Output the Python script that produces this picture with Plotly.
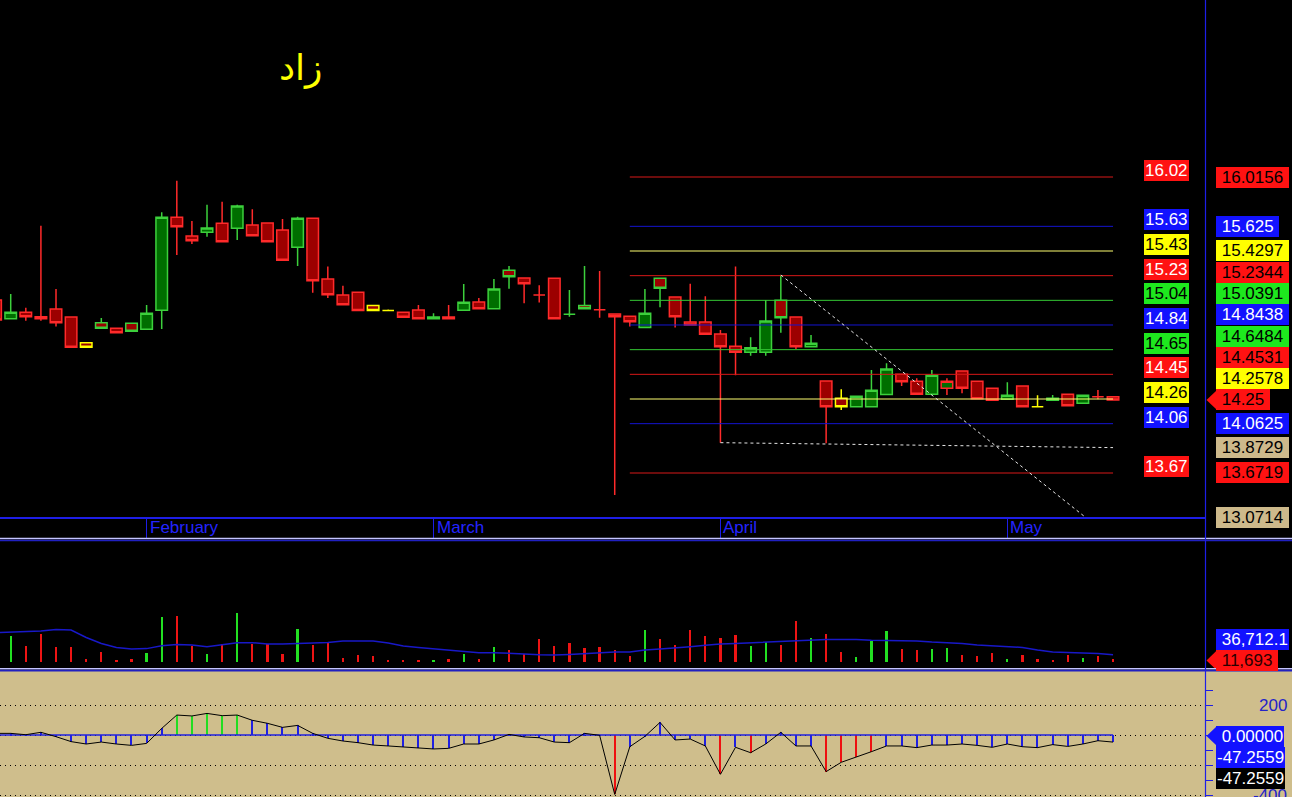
import plotly.graph_objects as go

W, H = 1292, 797
FONT = "Liberation Sans, Arial, sans-serif"

# ---------------- data ----------------
bars = list(range(-1, 74))
open_ = [15.042, 14.894, 14.945, 14.910, 14.971, 14.907, 14.704, 14.862, 14.818, 14.857,
         14.810, 14.961, 15.697, 15.549, 15.578, 15.649, 15.609, 15.636, 15.651, 15.596,
         15.459, 15.689, 15.208, 15.081, 15.103, 14.999, 14.958, 14.945, 14.963, 14.894,
         14.907, 14.961, 15.026, 14.973, 15.277, 15.216, 15.081, 15.214, 14.929, 14.999,
         14.965, 14.931, 14.913, 14.824, 15.213, 15.066, 14.868, 14.868, 14.773, 14.675,
         14.628, 14.628, 15.039, 14.907, 14.672, 14.401, 14.264, 14.197, 14.197, 14.294,
         14.454, 14.398, 14.295, 14.343, 14.480, 14.398, 14.343, 14.256, 14.361, 14.197,
         14.264, 14.295, 14.224, 14.276, 14.276]
high = [15.073, 15.089, 14.981, 15.630, 15.129, 14.907, 14.704, 14.899, 14.818, 14.857,
        15.002, 15.736, 15.986, 15.667, 15.796, 15.820, 15.796, 15.760, 15.651, 15.683,
        15.701, 15.689, 15.306, 15.155, 15.103, 14.999, 14.966, 14.945, 15.002, 14.936,
        15.002, 15.169, 15.058, 15.208, 15.311, 15.216, 15.158, 15.214, 15.121, 15.311,
        15.271, 14.931, 14.913, 15.129, 15.213, 15.066, 15.171, 15.071, 14.804, 15.306,
        14.746, 15.042, 15.240, 14.907, 14.765, 14.401, 14.335, 14.279, 14.488, 14.540,
        14.454, 14.422, 14.488, 14.422, 14.480, 14.398, 14.343, 14.390, 14.361, 14.287,
        14.290, 14.295, 14.287, 14.329, 14.276]
low = [14.868, 14.894, 14.878, 14.878, 14.831, 14.667, 14.667, 14.818, 14.783, 14.794,
       14.810, 14.812, 15.398, 15.485, 15.543, 15.503, 15.517, 15.551, 15.503, 15.356,
       15.311, 15.100, 15.058, 15.004, 14.958, 14.958, 14.958, 14.905, 14.894, 14.894,
       14.894, 14.961, 14.973, 14.973, 15.131, 15.016, 15.021, 14.894, 14.910, 14.968,
       14.902, 13.498, 14.831, 14.824, 14.984, 14.823, 14.844, 14.770, 13.912, 14.446,
       14.601, 14.601, 14.783, 14.651, 14.672, 13.907, 14.171, 14.197, 14.197, 14.294,
       14.361, 14.295, 14.295, 14.290, 14.303, 14.260, 14.248, 14.256, 14.197, 14.197,
       14.248, 14.205, 14.224, 14.256, 14.250]
close_ = [14.883, 14.945, 14.910, 14.894, 14.862, 14.667, 14.667, 14.818, 14.783, 14.794,
          14.937, 15.697, 15.622, 15.511, 15.612, 15.503, 15.786, 15.551, 15.503, 15.356,
          15.689, 15.195, 15.084, 15.004, 14.958, 14.958, 14.958, 14.905, 14.894, 14.907,
          14.894, 15.024, 14.973, 15.129, 15.226, 15.171, 15.081, 14.894, 14.929, 14.973,
          14.965, 14.910, 14.870, 14.937, 15.134, 14.910, 14.844, 14.770, 14.672, 14.628,
          14.664, 14.876, 14.902, 14.672, 14.699, 14.197, 14.197, 14.279, 14.327, 14.495,
          14.395, 14.295, 14.446, 14.398, 14.343, 14.260, 14.248, 14.287, 14.197, 14.197,
          14.248, 14.205, 14.287, 14.276, 14.250]
# volume in thousands of shares
volume = [60, 134, 82, 146, 76, 76, 14, 52, 5, 14,
          47, 232, 238, 83, 40, 94, 253, 90, 90, 40,
          170, 88, 99, 17, 35, 30, 10, 10, 10, 5,
          16, 40, 16, 76, 59, 40, 118, 83, 99, 71,
          76, 61, 30, 165, 118, 87, 165, 134, 125, 140,
          83, 102, 87, 212, 121, 146, 52, 24, 109, 160,
          68, 61, 68, 71, 35, 30, 47, 16, 35, 16,
          7, 35, 19, 30, 11.693]
volume_ma = [151, 154, 160, 160, 168, 165, 126, 95, 74, 66,
             68, 83, 90, 87, 78, 87, 99, 99, 92, 92,
             95, 100, 100, 108, 108, 108, 97, 82, 74, 68,
             61, 52, 47, 47, 45, 40, 36, 35, 38, 43,
             48, 50, 50, 61, 66, 71, 78, 85, 92, 95,
             99, 100, 104, 108, 113, 116, 116, 116, 111, 109,
             109, 108, 102, 99, 94, 87, 83, 80, 74, 61,
             50, 48, 47, 43, 36.7121]
cci = [11, 11, 2, 18, -11, -44, -60, -47, -60, -69,
       -56, 44, 133, 127, 144, 129, 133, 98, 78, 51,
       64, 11, -22, -40, -51, -67, -73, -80, -87, -93,
       -89, -60, -60, -33, 4, -13, -18, -47, -51, 11,
       -2, -396, -78, -9, 84, -33, -27, -73, -262, -82,
       -118, -60, 18, -73, -73, -244, -182, -149, -111, -73,
       -73, -84, -67, -67, -60, -69, -82, -60, -78, -84,
       -64, -76, -60, -38, -47.2559]
month_ticks = [9, 28, 47, 66]
month_labels = ["February", "March", "April", "May"]
levels = [16.0156, 15.625, 15.4297, 15.2344, 15.0391, 14.8438,
          14.6484, 14.4531, 14.2578, 14.0625, 13.6719]
level_span = [41, 73]
trend_low_x = [47, 73]
trend_low_y = [13.912, 13.8729]
trend_diag_x = [51, 73.8]
trend_diag_y = [15.240, 13.0714]
cci_grid = [200, 0, -200, -400]
cci_minor = [300, 100, -100, -300]
title_text = "زاد"

# ---------------- styles ----------------
LEVEL_STYLE = ["red", "blue", "yellow", "red", "green", "blue",
               "green", "red", "yellow", "blue", "red"]
LINE_COL = {"red": "#d81818", "blue": "#1414d0", "yellow": "#ffff70", "green": "#34c834"}
BOX_BG = {"red": "#ff1212", "blue": "#1212ff", "yellow": "#ffff00", "green": "#1ee81e",
          "tan": "#cdb98b", "black": "#000000"}
LEFT_FG = {"red": "white", "blue": "white", "yellow": "black", "green": "black"}
RIGHT_FG = {"red": "black", "blue": "white", "yellow": "black", "green": "black", "tan": "black"}
C_LINE = {"up": "#3cd03c", "down": "#ff2a2a", "flat": "#ffff00"}
C_FILL = {"up": "#006e00", "down": "#9c0000"}
AX_BLUE = "#1e1ee6"
VOL_COL = {"up": "#22e022", "down": "#ee1414"}

# ---------------- geometry ----------------
XR = [-0.709, 79.09]
XD = [0, 1205 / W]
P_RANGE = [13.3235, 17.4171]
P_PX = [0, 517]
V_RANGE = [-32.8, 627.6]
V_PX = [541, 668]
C_RANGE = [-413.3, 426.7]
C_PX = [671, 797]


def dom(pxr):
    return [1 - pxr[1] / H, 1 - pxr[0] / H]


def val_px(v, rng, pxr):
    return pxr[0] + (rng[1] - v) / (rng[1] - rng[0]) * (pxr[1] - pxr[0])


def pxx(x):
    return x / W


def pxy(y):
    return 1 - y / H


fig = go.Figure()

# candles grouped by (body, outline) style
groups = {}
for i in range(len(bars)):
    o, c = open_[i], close_[i]
    body = "up" if c > o else "down"
    if i == 0:
        edge = body
    else:
        pc = close_[i - 1]
        edge = "up" if c > pc else ("down" if c < pc else "flat")
    groups.setdefault((body, edge), []).append(i)

for (body, edge), idx in groups.items():
    st = dict(line=dict(color=C_LINE[edge], width=1.5), fillcolor=C_FILL[body])
    fig.add_trace(go.Candlestick(
        x=[bars[i] for i in idx], open=[open_[i] for i in idx], high=[high[i] for i in idx],
        low=[low[i] for i in idx], close=[close_[i] for i in idx],
        increasing=st, decreasing=st, whiskerwidth=0, hoverinfo="skip",
        xaxis="x", yaxis="y"))

# murrey lines
for lv, s in zip(levels, LEVEL_STYLE):
    fig.add_trace(go.Scatter(x=level_span, y=[lv, lv], mode="lines",
                             line=dict(color=LINE_COL[s], width=1), hoverinfo="skip",
                             xaxis="x", yaxis="y"))
# trend lines
for tx, ty in [(trend_low_x, trend_low_y), (trend_diag_x, trend_diag_y)]:
    fig.add_trace(go.Scatter(x=tx, y=ty, mode="lines",
                             line=dict(color="#e6e6e6", width=1, dash="3px,3px"),
                             hoverinfo="skip", xaxis="x", yaxis="y"))

# volume
vcols = [VOL_COL["up"] if c > o else VOL_COL["down"] for o, c in zip(open_, close_)]
fig.add_trace(go.Bar(x=bars, y=volume, width=0.15, marker=dict(color=vcols, line=dict(width=0)),
                     hoverinfo="skip", xaxis="x2", yaxis="y2"))
fig.add_trace(go.Scatter(x=bars, y=volume_ma, mode="lines", line=dict(color="#1818c8", width=1.5),
                         hoverinfo="skip", xaxis="x2", yaxis="y2"))

# cci
ccols = ["#22dd22" if v > 100 else ("#ee1010" if v < -100 else "#2020e0") for v in cci]
fig.add_trace(go.Bar(x=bars, y=cci, width=0.08, marker=dict(color=ccols, line=dict(width=0)),
                     hoverinfo="skip", xaxis="x3", yaxis="y3"))
fig.add_trace(go.Scatter(x=[bars[0], bars[-1]], y=[0, 0], mode="lines",
                         line=dict(color="#2020e0", width=1.5), hoverinfo="skip",
                         xaxis="x3", yaxis="y3"))
fig.add_trace(go.Scatter(x=bars, y=cci, mode="lines", line=dict(color="#000000", width=1),
                         hoverinfo="skip", xaxis="x3", yaxis="y3"))

# ---------------- annotations ----------------
ann = []


def box(text, xpx, ypx, bg, fg, anchor="left", size=17):
    ann.append(dict(text=text, x=pxx(xpx), y=pxy(ypx), xref="paper", yref="paper",
                    xanchor=anchor, yanchor="middle", showarrow=False, bgcolor=bg,
                    font=dict(color=fg, size=size, family=FONT), borderpad=1, borderwidth=0))


NB = "\u00a0"
shapes = []


def arrow(ypx, color, tip=1206.5, base=1216.5, half=9.6):
    shapes.append(dict(type="path", xref="paper", yref="paper", layer="above",
                       path=f"M{pxx(tip)},{pxy(ypx)} L{pxx(base)},{pxy(ypx - half)} "
                            f"L{pxx(base)},{pxy(ypx + half)} Z",
                       fillcolor=color, line=dict(width=0)))


# left column level labels
for lv, s in zip(levels, LEVEL_STYLE):
    y = val_px(lv, P_RANGE, P_PX) - 6.5
    box(f"{lv + 1e-9:.2f}", 1189, y, BOX_BG[s], LEFT_FG[s], anchor="right")

# right column price labels with collision stacking
items = [(lv, s, False) for lv, s in zip(levels, LEVEL_STYLE)]
items.append((close_[-1], "red", True))
items.append((trend_low_y[-1], "tan", False))
items.append((trend_diag_y[-1], "tan", False))
items.sort(key=lambda t: t[0])
prev = None
for v, s, is_arrow in items:
    y = min(val_px(v, P_RANGE, P_PX), P_PX[1] + 0.3)
    if prev is not None:
        y = min(y, prev - 21.3)
    prev = y
    txt = f"{v:.4f}".rstrip("0")
    box(NB + txt + NB, 1216, y, BOX_BG[s], RIGHT_FG[s])
    if is_arrow:
        arrow(y, BOX_BG["red"])

# volume labels
yv = val_px(volume[-1], V_RANGE, V_PX) + 1
box(NB + f"{volume[-1] * 1000:,.0f}" + NB, 1216, yv, BOX_BG["red"], "#2a0000")
arrow(yv, BOX_BG["red"])
ym = min(val_px(volume_ma[-1], V_RANGE, V_PX), yv - 21.3)
box(NB + f"{volume_ma[-1] * 1000:,.1f}", 1216, ym, BOX_BG["blue"], "white")

# cci labels
y0 = val_px(0, C_RANGE, C_PX) + 1
box(NB + f"{0:.5f}", 1216, y0, BOX_BG["blue"], "white")
arrow(y0, BOX_BG["blue"])
y1 = max(val_px(cci[-1], C_RANGE, C_PX), y0 + 21.3)
box(f"{cci[-1]:.4f}", 1216, y1, BOX_BG["blue"], "white")
box(f"{cci[-1]:.4f}", 1216, y1 + 21.3, BOX_BG["black"], "white")
for gv in [200, -400]:
    ann.append(dict(text=str(gv), x=pxx(1289), y=pxy(val_px(gv, C_RANGE, C_PX)), xref="paper",
                    yref="paper", xanchor="right", yanchor="middle", showarrow=False,
                    font=dict(color="#2323c8", size=17, family=FONT)))

# month labels
for t, lab in zip(month_ticks, month_labels):
    ann.append(dict(text=lab, x=t, xref="x", y=pxy(527.5), yref="paper", xanchor="left",
                    yanchor="middle", xshift=1, showarrow=False,
                    font=dict(color="#2424ff", size=17, family=FONT)))

# title
ann.append(dict(text=title_text, x=pxx(300), y=pxy(68), xref="paper", yref="paper",
                xanchor="center", yanchor="middle", showarrow=False,
                font=dict(color="#ffff00", size=36, family="DejaVu Sans")))

# ---------------- shapes ----------------
shapes.insert(0, dict(type="rect", xref="paper", yref="paper", x0=0, x1=1, y0=0, y1=pxy(670.5),
                      fillcolor="#cfbe8c", line=dict(width=0), layer="below"))
for yl, col in [(538.5, "#c4c4ff"), (540.5, "#2020c0"), (668.8, "#c4c4ff"), (670.6, "#2020c0")]:
    shapes.append(dict(type="line", xref="paper", yref="paper", x0=0, x1=1, y0=pxy(yl), y1=pxy(yl),
                       line=dict(color=col, width=1.6), layer="above"))
shapes.append(dict(type="line", xref="paper", yref="paper", x0=pxx(1205.5), x1=pxx(1205.5),
                   y0=0, y1=1, line=dict(color=AX_BLUE, width=1.2), layer="above"))

fig.update_layout(
    width=W, height=H, margin=dict(l=0, r=0, t=0, b=0),
    paper_bgcolor="#000000", plot_bgcolor="rgba(0,0,0,0)",
    showlegend=False, hovermode=False,
    boxgap=0.1, boxgroupgap=0.15, bargap=0,
    annotations=ann, shapes=shapes,
    xaxis=dict(domain=XD, range=XR, anchor="y", showgrid=False, zeroline=False,
               showline=True, linecolor=AX_BLUE, linewidth=1.5, ticks="outside",
               tickmode="array", tickvals=month_ticks, ticklen=19, tickcolor=AX_BLUE, tickwidth=1,
               showticklabels=False, rangeslider=dict(visible=False), fixedrange=True),
    yaxis=dict(domain=dom(P_PX), range=P_RANGE, anchor="x", showgrid=False, zeroline=False,
               showticklabels=False, ticks="", fixedrange=True),
    xaxis2=dict(domain=XD, range=XR, anchor="y2", visible=False, matches="x"),
    yaxis2=dict(domain=dom(V_PX), range=V_RANGE, anchor="x2", visible=False),
    xaxis3=dict(domain=XD, range=XR, anchor="y3", visible=False, matches="x"),
    yaxis3=dict(domain=dom(C_PX), range=C_RANGE, anchor="x3", side="right",
                showgrid=True, gridcolor="#000000", griddash="1px,4px", gridwidth=1,
                tickmode="array", tickvals=cci_grid, ticks="outside", ticklen=7,
                tickcolor=AX_BLUE, showticklabels=False, zeroline=False, showline=False,
                minor=dict(tickmode="array", tickvals=cci_minor, ticks="outside", ticklen=7,
                           tickcolor=AX_BLUE, showgrid=False)),
)

fig.write_html("out.html", config={"displayModeBar": False},
               post_script="document.body.style.margin='0';"
                           "document.body.style.background='#000';")
